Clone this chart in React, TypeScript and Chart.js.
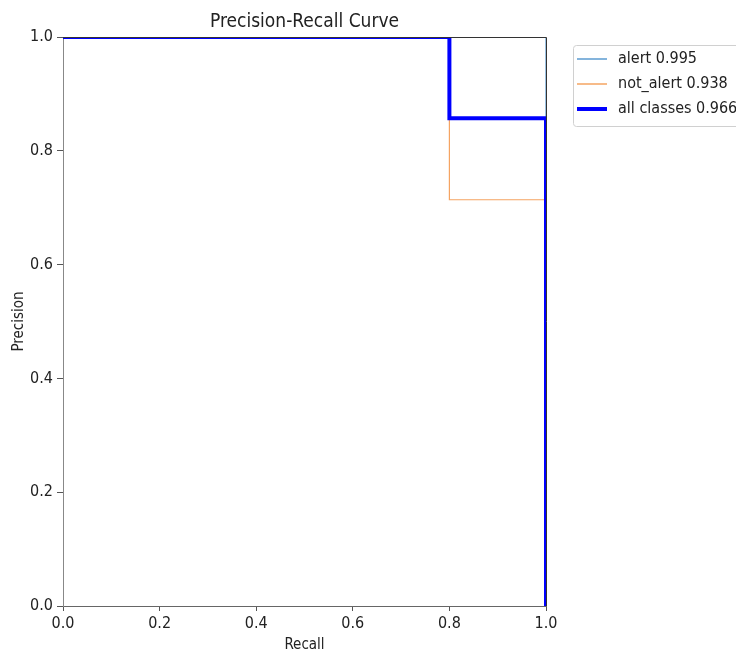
import React, { useEffect, useRef } from "react";
import { Chart, registerables } from "chart.js";

Chart.register(...registerables);

const recallAlert = [0, 1, 1];
const precisionAlert = [1, 1, 0];
const recallNotAlert = [0, 0.8, 0.8, 1, 1];
const precisionNotAlert = [1, 1, 0.714, 0.714, 0];
const recallAll = [0, 0.8, 0.8, 1, 1];
const precisionAll = [1, 1, 0.857, 0.857, 0];
const seriesNames = ["alert", "not_alert", "all classes"];
const apValues = ["0.995", "0.938", "0.966"];
const titleText = "Precision-Recall Curve";
const xTitle = "Recall";
const yTitle = "Precision";

const colors = ["#5b9bd0", "#f5a462", "#0000ff"];
const widths = [1.2, 1.2, 4];
const FONT = "'DejaVu Sans Condensed', 'DejaVu Sans', sans-serif";

const toPts = (xs: number[], ys: number[]) => xs.map((x, i) => ({ x, y: ys[i] }));

const framePlugin = {
  id: "frameAndLegend",
  afterDatasetsDraw(chart: any) {
    const { ctx, chartArea } = chart;
    const { left, right, top, bottom } = chartArea;
    ctx.save();
    // top & right spines
    ctx.strokeStyle = "#333";
    ctx.lineWidth = 1;
    ctx.beginPath();
    ctx.moveTo(left, top + 0.5);
    ctx.lineTo(right + 0.5, top + 0.5);
    ctx.lineTo(right + 0.5, bottom);
    ctx.stroke();
    // title
    ctx.fillStyle = "#222";
    ctx.font = `19px ${FONT}`;
    ctx.textAlign = "center";
    ctx.textBaseline = "alphabetic";
    ctx.fillText(titleText, (left + right) / 2, 27);
    // legend
    const bx = 573, by = 45, bw = 200, bh = 81;
    ctx.fillStyle = "#fff";
    ctx.strokeStyle = "#d0d0d0";
    ctx.lineWidth = 1;
    ctx.beginPath();
    ctx.roundRect(bx + 0.5, by + 0.5, bw, bh, 3);
    ctx.fill();
    ctx.stroke();
    ctx.font = `16px ${FONT}`;
    ctx.textAlign = "left";
    ctx.textBaseline = "middle";
    seriesNames.forEach((name, i) => {
      const y = 59 + i * 25;
      ctx.strokeStyle = colors[i];
      ctx.lineWidth = i === 2 ? 4 : 1.5;
      ctx.beginPath();
      ctx.moveTo(577, y);
      ctx.lineTo(607, y);
      ctx.stroke();
      ctx.fillStyle = "#222";
      ctx.fillText(`${name} ${apValues[i]}`, 618, y);
    });
    ctx.restore();
  },
};

export default function App() {
  const ref = useRef<HTMLCanvasElement>(null);
  useEffect(() => {
    if (!ref.current) return;
    const chart = new Chart(ref.current, {
      type: "line",
      data: {
        datasets: [
          { label: seriesNames[0], data: toPts(recallAlert, precisionAlert), borderColor: colors[0], borderWidth: widths[0], pointRadius: 0, order: 2, clip: 0 },
          { label: seriesNames[1], data: toPts(recallNotAlert, precisionNotAlert), borderColor: colors[1], borderWidth: widths[1], pointRadius: 0, order: 1, clip: 0 },
          { label: seriesNames[2], data: toPts(recallAll, precisionAll), borderColor: colors[2], borderWidth: widths[2], pointRadius: 0, order: 0, clip: 0 },
        ],
      },
      options: {
        animation: false,
        responsive: false,
        devicePixelRatio: 1,
        layout: { padding: { left: 0, right: 190, top: 37, bottom: 0 } },
        plugins: { legend: { display: false }, title: { display: false }, tooltip: { enabled: false } },
        elements: { line: { tension: 0 } },
        scales: {
          x: {
            type: "linear",
            min: 0,
            max: 1,
            ticks: { stepSize: 0.2, callback: (v: any) => Number(v).toFixed(1), color: "#222", font: { family: FONT, size: 16 }, padding: 3, maxRotation: 0 },
            grid: { display: true, drawOnChartArea: false, drawTicks: true, tickLength: 5, color: "#555" },
            border: { display: true, color: "#666", width: 1 },
            title: { display: true, text: xTitle, color: "#222", font: { family: FONT, size: 15 }, padding: { top: 0, bottom: 2 } },
            afterFit: (s: any) => { s.height = 50; },
          },
          y: {
            type: "linear",
            min: 0,
            max: 1,
            ticks: { stepSize: 0.2, callback: (v: any) => Number(v).toFixed(1), color: "#222", font: { family: FONT, size: 16 }, padding: 4 },
            grid: { display: true, drawOnChartArea: false, drawTicks: true, tickLength: 6, color: "#555" },
            border: { display: true, color: "#888", width: 1 },
            title: { display: true, text: yTitle, color: "#222", font: { family: FONT, size: 15 }, padding: { top: 10, bottom: 0 } },
            afterFit: (s: any) => { s.width = 63; },
          },
        },
      },
      plugins: [framePlugin],
    } as any);
    return () => chart.destroy();
  }, []);
  return (
    <div style={{ position: "absolute", left: 0, top: 0, width: 736, height: 656, background: "#fff" }}>
      <canvas ref={ref} width={736} height={656} />
    </div>
  );
}
